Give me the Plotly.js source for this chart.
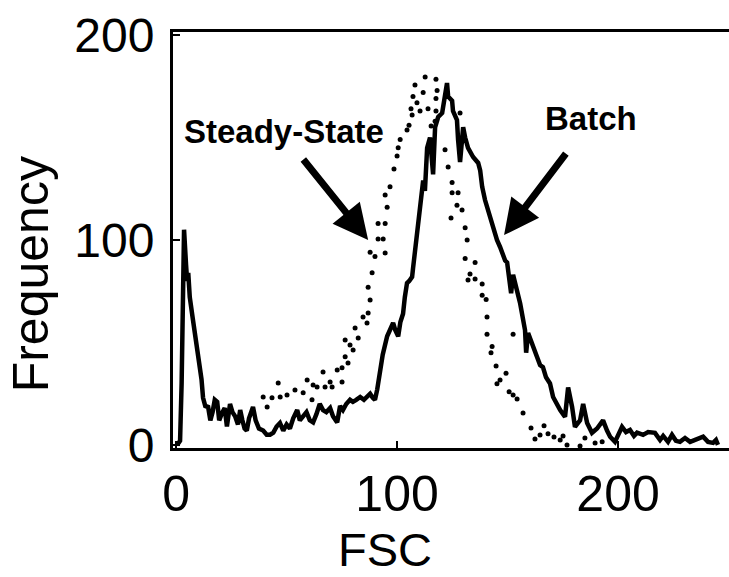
<!DOCTYPE html>
<html>
<head>
<meta charset="utf-8">
<script src="https://cdn.plot.ly/plotly-3.0.1.min.js"></script>
<style>html,body{margin:0;padding:0;background:#fff;}#chart{width:729px;height:577px;}</style>
</head>
<body>
<div id="chart"></div>
<script>
// Batch (solid line): FSC channel and frequency
const batchFSC = [0.5,1.8,2.5,3.2,3.6,4.5,5.0,5.5,6.2,7.5,8.5,9.5,10.3,11.5,12.2,13.2,14.5,15.5,16.5,17.5,18.6,19.5,20.8,22,23,24.4,25.5,26.7,28,29,30,31,32,33,34.8,36,37.5,39.4,41,42.5,44,45.5,47,48.5,50,51.5,53,54.8,56,57.5,59,60.5,62,63.5,65,66.5,68,69.7,71,72.9,74.2,75.5,77,78.7,80,81.5,83.3,85,86.5,87.8,89,90,91,92.3,93.5,95.5,97,98.2,99.2,100.5,101.5,102.7,103.5,104.5,105.5,106.8,107.2,108.1,109,110.4,111.8,112.6,113.6,114.9,116.3,117.2,118.6,120.4,121.7,122.6,123.1,124.9,125.3,127.1,127.6,128.5,129.4,129.9,130.8,132.1,134.4,136.7,137.6,138.5,139.8,140.7,142.1,143.4,145.2,146.6,148.9,149.8,151.1,151.6,152.5,155.7,157.9,158.4,159.3,161,163.3,164.7,166,167.4,169.2,170.6,172.4,173.8,176,177.4,179.2,180.5,182.8,184.2,186,188.2,190.5,193.2,195,196.4,198.6,201.8,203.6,205.4,207.2,208.6,211.3,213.6,216.7,219,220.4,222.6,224.4,226.2,228,230.3,232.6,235.3,238.5,240.7,243,244.3,245.2];
const batchFreq = [0,2,30,75,105,88,80,84,72,62,55,48,40,32,23,19,18.5,12,16,22,21,12,15.6,18,9,20,16,14,10,17,12,8,7,13,18.5,12,8,7,5,5,6,9,10.7,7,10,8,13,17,12,14,16,12,11,15,20,17,16,18,14,11,19,17,20,22,21,22,23.4,22,24,25,23,22,27,38,44,53,57,59.5,56,53,60,64,72,79,80,82,86,95,103,113,129,124,145,150,132,155,160,162,173,176.6,170,168,163,158.5,149,138,149,155,150,145,140.5,137.6,134,126,119.5,116,111,106,100,96.6,90,89,80.5,74,83,69,56,45,54.6,49,43,39,38,33,30,23.4,19.5,17,13.7,28,18.5,8.8,12,20,10.7,5.9,8,12,7,4,1.5,8.8,6.3,7.3,4.4,6,4.9,6.3,5.9,2.4,4.4,1.5,4.9,2,1.5,3.4,1.5,2.4,4,1.5,1,2.4,0];

// Steady-State (dotted): FSC channel and frequency
const steadyFSC = [39.4,41.2,43.4,46.2,47.1,50.2,53.8,57.5,59.3,61.5,62,63.8,66.5,67.4,69.7,70.6,72.9,75.1,75.1,76.5,77.8,76.5,78.7,80.1,81,82.4,84.6,86.4,86.9,87.8,86.9,88.7,87.8,90,91.4,93.7,94.6,91.4,94.6,95.5,94.6,96.8,98.6,100,100.5,101.4,104.5,105.4,106.8,106.3,107.2,109,110.4,108.1,111.8,112.7,114,115.4,117.6,118.1,117.6,117.6,117.2,121.7,123.1,128.5,124.9,124.9,127.6,127.1,129.4,124.4,130.8,131.7,130.8,135.3,133,132.1,135.3,138.5,138.5,140.3,140.7,140.7,152.5,143,142.5,144.8,149.3,146.6,145.2,150.7,152.5,154.3,157,160.6,166.5,164.7,162.4,168.3,171,175.1,173.8,176.9,182.8,185,189.6,192.8];
const steadyFreq = [23.4,18.5,23,30.2,23.4,24.4,26.8,25.4,31.7,22,29.3,28.3,35.6,28.3,30.7,28.3,36.6,37.6,30.7,43,40,51.2,48.8,46.3,57,52.2,62.4,59.5,64.4,70.7,77,84,94,92,100.5,100.5,93.7,108,108,116,122,126,134.6,141,145,149,153.7,156,161,164,170,167,163,175.6,172,179.5,164,155.6,178.5,173,169,163,158,144,135.6,162,128,123,123,117,114.6,110.7,106,100,91,89,83.4,80.5,81,78.5,73,71,62.4,54,54,48,45,38.5,35,31.7,29.8,26,24.4,22.4,15.6,8.3,9.3,4.9,2.9,5.4,3.9,4.4,2.4,0,-0.5,3.4,1,1.5];

const xTicks = [0, 100, 200];
const yTicks = [0, 100, 200];

const traces = [
  {x: steadyFSC, y: steadyFreq, name: 'Steady-State', type: 'scatter', mode: 'markers',
   marker: {color: '#000', size: 5}, cliponaxis: false, hoverinfo: 'skip'},
  {x: batchFSC, y: batchFreq, name: 'Batch', type: 'scatter', mode: 'lines',
   line: {color: '#000', width: 4.5, shape: 'linear'}, hoverinfo: 'skip'}
];

const tickFontX = {family: '"Liberation Sans", Arial, sans-serif', size: 50, color: '#000'};
const tickFontY = {family: '"Liberation Sans", Arial, sans-serif', size: 48, color: '#000'};
const titleFont = {family: '"Liberation Sans", Arial, sans-serif', size: 47, color: '#000'};
const labelFont = {family: '"Liberation Sans", Arial, sans-serif', size: 33, color: '#000', weight: 'bold'};

const layout = {
  width: 729, height: 577,
  margin: {l: 173, r: 0, t: 32, b: 129, pad: 0},
  paper_bgcolor: '#fff', plot_bgcolor: '#fff',
  showlegend: false,
  xaxis: {
    range: [-1.4, 250.2], tickvals: xTicks, ticktext: xTicks.map(String),
    showgrid: false, zeroline: false,
    showline: true, linecolor: '#000', linewidth: 3, mirror: true,
    ticks: 'inside', ticklen: 7, tickwidth: 2, tickcolor: '#000',
    tickfont: tickFontX, ticklabelstandoff: 0
  },
  yaxis: {
    range: [-1.5, 201.5], tickvals: yTicks, ticktext: yTicks.map(String),
    showgrid: false, zeroline: false,
    showline: true, linecolor: '#000', linewidth: 3,
    ticks: 'inside', ticklen: 7, tickwidth: 2, tickcolor: '#000',
    tickfont: tickFontY, ticklabelstandoff: 6
  },
  annotations: [
    {text: 'FSC', xref: 'paper', yref: 'paper', x: 0.381, y: -0.243,
     xanchor: 'center', yanchor: 'middle', showarrow: false, font: titleFont},
    {text: 'Frequency', xref: 'paper', yref: 'paper', x: -0.255, y: 0.418, textangle: -90,
     xanchor: 'center', yanchor: 'middle', showarrow: false, font: {family: titleFont.family, size: 50, color: '#000'}},
    {text: 'Steady-State', xref: 'x', yref: 'y', x: 48.9, y: 153,
     xanchor: 'center', yanchor: 'middle', showarrow: false, font: labelFont},
    {text: 'Batch', xref: 'x', yref: 'y', x: 187.8, y: 159.5,
     xanchor: 'center', yanchor: 'middle', showarrow: false, font: labelFont},
    {text: '', xref: 'x', yref: 'y', x: 86.9, y: 100, ax: -66, ay: -82,
     showarrow: true, arrowhead: 2, arrowsize: 1, arrowwidth: 7, arrowcolor: '#000'},
    {text: '', xref: 'x', yref: 'y', x: 148.4, y: 102.4, ax: 63, ay: -83,
     showarrow: true, arrowhead: 2, arrowsize: 1, arrowwidth: 7, arrowcolor: '#000'}
  ]
};

Plotly.newPlot('chart', traces, layout, {staticPlot: true, displayModeBar: false});
</script>
</body>
</html>
